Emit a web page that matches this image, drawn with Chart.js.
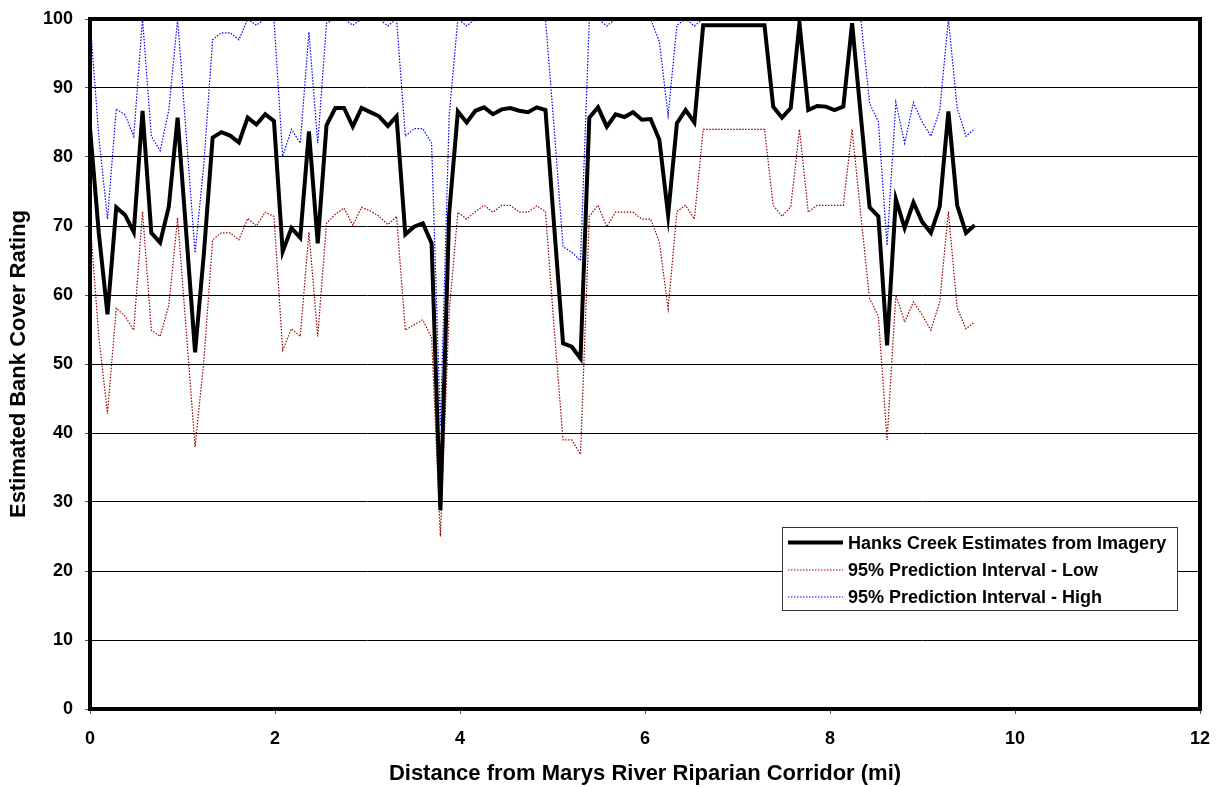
<!DOCTYPE html>
<html>
<head>
<meta charset="utf-8">
<script src="https://cdn.jsdelivr.net/npm/chart.js@4.4.1/dist/chart.umd.min.js"></script>
<style>
  html, body { margin: 0; padding: 0; background: #fff; }
  #wrap { width: 1222px; height: 787px; position: relative; }
</style>
</head>
<body>
<div id="wrap"><canvas id="c" width="1222" height="787"></canvas></div>
<script>
// Distance from Marys River Riparian Corridor (mi)
const distances = [
  0, 0.095, 0.189, 0.284, 0.379, 0.473, 0.568, 0.663, 0.758, 0.852,
  0.947, 1.042, 1.136, 1.231, 1.326, 1.420, 1.515, 1.610, 1.705, 1.799,
  1.894, 1.989, 2.083, 2.178, 2.273, 2.367, 2.462, 2.557, 2.652, 2.746,
  2.841, 2.936, 3.030, 3.125, 3.220, 3.314, 3.409, 3.504, 3.598, 3.693,
  3.788, 3.883, 3.977, 4.072, 4.167, 4.261, 4.356, 4.451, 4.545, 4.640,
  4.735, 4.830, 4.924, 5.019, 5.114, 5.208, 5.303, 5.398, 5.492, 5.587,
  5.682, 5.777, 5.871, 5.966, 6.061, 6.155, 6.250, 6.345, 6.439, 6.534,
  6.629, 6.723, 6.818, 6.913, 7.008, 7.102, 7.197, 7.292, 7.386, 7.481,
  7.576, 7.670, 7.765, 7.860, 7.955, 8.049, 8.144, 8.239, 8.333, 8.428,
  8.523, 8.617, 8.712, 8.807, 8.902, 8.996, 9.091, 9.186, 9.280, 9.375,
  9.470, 9.564
];

// Hanks Creek Estimates from Imagery
const estimates = [
  84.2, 69.0, 57.2, 72.7, 71.6, 69.1, 86.7, 69.0, 67.6, 72.8,
  85.7, 68.7, 51.7, 66.0, 82.8, 83.6, 83.1, 82.1, 85.7, 84.7,
  86.2, 85.2, 66.3, 69.7, 68.3, 83.7, 67.5, 84.6, 87.1, 87.1,
  84.4, 87.1, 86.5, 85.9, 84.5, 85.9, 68.8, 69.9, 70.4, 67.5,
  28.8, 71.8, 86.6, 85.0, 86.7, 87.2, 86.2, 86.9, 87.1, 86.7,
  86.5, 87.2, 86.8, 69.8, 53.0, 52.5, 50.8, 85.7, 87.2, 84.4,
  86.2, 85.8, 86.5, 85.4, 85.5, 82.5, 71.6, 84.9, 86.8, 85.0,
  99.1, 99.1, 99.1, 99.1, 99.1, 99.1, 99.1, 99.1, 87.3, 85.7,
  87.1, 99.4, 86.8, 87.4, 87.3, 86.8, 87.3, 99.4, 86.0, 72.7,
  71.4, 52.7, 73.9, 69.7, 73.4, 70.6, 69.0, 72.8, 86.6, 73.0,
  69.0, 70.1
];

// 95% Prediction Interval - Low
const intervalLow = [
  71.0, 54.0, 42.8, 58.1, 56.9, 54.9, 72.1, 54.9, 54.0, 58.5,
  71.2, 54.5, 38.0, 50.5, 68.0, 69.0, 69.0, 68.0, 71.1, 70.0,
  72.0, 71.4, 52.0, 55.1, 54.0, 69.1, 54.0, 70.4, 71.7, 72.6,
  70.1, 72.7, 72.2, 71.4, 70.2, 71.4, 54.9, 55.7, 56.4, 53.8,
  25.0, 57.5, 72.0, 71.0, 72.1, 73.0, 72.0, 73.0, 73.0, 72.0,
  72.0, 72.9, 72.1, 55.0, 39.0, 39.0, 36.9, 71.4, 73.0, 69.9,
  72.0, 72.0, 72.0, 71.0, 71.0, 67.7, 58.0, 72.1, 73.0, 71.0,
  84.0, 84.0, 84.0, 84.0, 84.0, 84.0, 84.0, 84.0, 73.0, 71.4,
  72.8, 84.0, 72.0, 73.0, 73.0, 73.0, 73.0, 84.0, 71.6, 59.5,
  56.9, 39.0, 60.0, 56.1, 59.0, 57.1, 54.9, 59.0, 72.1, 58.1,
  55.1, 56.1
];

// 95% Prediction Interval - High
const intervalHigh = [
  100, 83.0, 71.0, 87.0, 86.1, 83.0, 100, 83.0, 80.9, 86.8,
  100, 83.0, 66.1, 79.0, 97.0, 98.0, 98.0, 97.0, 100, 99.1,
  100, 100, 80.1, 84.0, 82.0, 98.1, 82.0, 99.4, 100, 100,
  99.1, 100, 100, 100, 99.0, 100, 83.0, 84.1, 84.1, 82.0,
  41.0, 86.0, 100, 99.0, 100, 100, 100, 100, 100, 100,
  100, 100, 100, 84.0, 67.0, 66.2, 65.0, 100, 100, 99.0,
  100, 100, 100, 100, 100, 96.7, 86.0, 99.1, 100, 99.0,
  100, 100, 100, 100, 100, 100, 100, 100, 100, 100,
  100, 100, 100, 100, 100, 100, 100, 100, 100, 87.8,
  85.1, 67.2, 87.9, 82.0, 87.9, 85.1, 83.0, 86.8, 100, 87.1,
  83.0, 84.1
];

const seriesLabels = [
  'Hanks Creek Estimates from Imagery',
  '95% Prediction Interval - Low',
  '95% Prediction Interval - High'
];

const xTitle = 'Distance from Marys River Riparian Corridor (mi)';
const yTitle = 'Estimated Bank Cover Rating';

// Styles (kept separate from data)
const seriesColors = ['#000000', '#9a0000', '#0000ff'];
const seriesWidths = [4, 1.2, 1.2];
const seriesDashes = [[], [1.5, 1.5], [1.5, 1.5]];

const toPoints = (vals) => vals.map((v, i) => ({ x: distances[i], y: v }));

const FONT = '"Liberation Sans", Arial, Helvetica, sans-serif';
Chart.defaults.font.family = FONT;
Chart.defaults.font.weight = 'bold';
Chart.defaults.color = '#000';

const framePlugin = {
  id: 'frame',
  afterDatasetsDraw(chart) {
    const { ctx, chartArea: a } = chart;
    ctx.save();
    ctx.strokeStyle = '#000';
    ctx.lineWidth = 4;
    ctx.strokeRect(a.left, a.top, a.right - a.left, a.bottom - a.top);
    ctx.restore();
  }
};

const legendPlugin = {
  id: 'boxLegend',
  afterDraw(chart) {
    const { ctx } = chart;
    const bx = 782.5, by = 527.5, bw = 395, bh = 83;
    ctx.save();
    ctx.fillStyle = '#fff';
    ctx.fillRect(bx, by, bw, bh);
    ctx.strokeStyle = '#333';
    ctx.lineWidth = 1;
    ctx.setLineDash([]);
    ctx.strokeRect(bx, by, bw, bh);
    const rows = [542.5, 570, 597];
    chart.data.datasets.forEach((ds, i) => {
      const y = rows[i];
      ctx.save();
      ctx.beginPath();
      ctx.strokeStyle = seriesColors[i];
      ctx.lineWidth = seriesWidths[i];
      ctx.setLineDash(seriesDashes[i]);
      ctx.moveTo(788, y);
      ctx.lineTo(843, y);
      ctx.stroke();
      ctx.restore();
      ctx.fillStyle = '#000';
      ctx.font = 'bold 18px ' + FONT;
      ctx.textBaseline = 'middle';
      ctx.textAlign = 'left';
      ctx.fillText(ds.label, 848, Math.round(y) + 1);
    });
    ctx.restore();
  }
};

new Chart(document.getElementById('c'), {
  type: 'line',
  data: {
    datasets: seriesLabels.map((label, i) => ({
      label,
      data: toPoints([estimates, intervalLow, intervalHigh][i]),
      borderColor: seriesColors[i],
      borderWidth: seriesWidths[i],
      borderDash: seriesDashes[i],
      pointRadius: 0,
      tension: 0,
      borderJoinStyle: 'miter'
    }))
  },
  options: {
    responsive: false,
    animation: false,
    layout: { padding: { left: 0, right: 22, top: 19, bottom: 0 } },
    plugins: {
      legend: { display: false },
      tooltip: { enabled: false }
    },
    scales: {
      x: {
        type: 'linear',
        min: 0,
        max: 12,
        ticks: { stepSize: 2, padding: 14, font: { size: 18, weight: 'bold' }, color: '#000' },
        grid: { display: true, drawOnChartArea: false, drawTicks: true, tickLength: 5, color: '#555' },
        border: { display: false },
        title: { display: true, text: xTitle, font: { size: 22, weight: 'bold' }, padding: { top: 0, bottom: 0 }, color: '#000' },
        afterFit(scale) {
          scale.height = 78;
          scale.paddingLeft = 0;
          scale.paddingRight = 0;
        }
      },
      y: {
        min: 0,
        max: 100,
        ticks: { stepSize: 10, padding: 12, font: { size: 18, weight: 'bold' }, color: '#000' },
        grid: { color: '#000', lineWidth: 1, drawTicks: true, tickLength: 5, tickColor: '#555' },
        border: { display: false },
        title: { display: true, text: yTitle, font: { size: 22, weight: 'bold' }, padding: { top: 6, bottom: 0 }, color: '#000' },
        afterFit(scale) {
          scale.width = 90;
          scale.paddingTop = 0;
          scale.paddingBottom = 0;
        }
      }
    }
  },
  plugins: [framePlugin, legendPlugin]
});
</script>
</body>
</html>
